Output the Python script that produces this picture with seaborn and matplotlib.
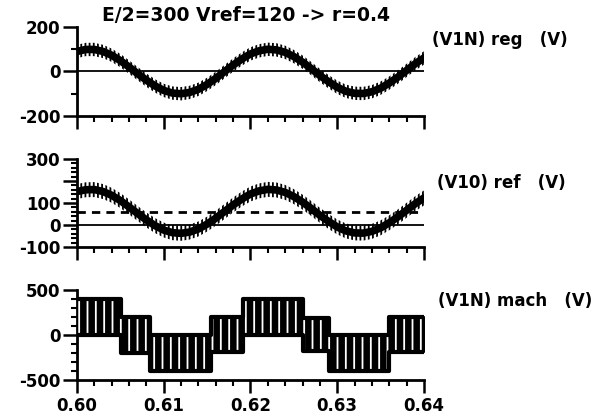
import numpy as np
import matplotlib
matplotlib.use("Agg")
import matplotlib.pyplot as plt
import seaborn as sns

# ── Data ──────────────────────────────────────────────────────────
t_start, t_stop = 0.600, 0.640
t = np.linspace(t_start, t_stop, 41)          # sample times, 1 ms apart

# (V1N) reg : centre of the rippled band (V)
reg_center = [90, 99, 99, 90, 73, 49, 20, -10, -39, -65, -85, -97, -100, -94,
              -80, -58, -31, -1, 29, 56, 79, 93, 100, 97, 86, 67, 42, 13, -18,
              -46, -71, -89, -98, -99, -91, -75, -52, -25, 5, 35, 61]
reg_ripple = 30

# (V10) ref : centre of the rippled band (V) + dashed offset level
ref_center = [152, 160, 161, 152, 135, 111, 82, 52, 23, -3, -23, -35, -38, -32,
              -18, 4, 31, 61, 91, 118, 141, 155, 162, 159, 148, 129, 104, 75, 44,
              16, -9, -27, -36, -37, -29, -13, 10, 37, 67, 97, 123]
ref_ripple = 34
ref_offset = 60

# (V1N) mach : PWM staircase, switching between low and high in each sector
mach_edges = [0.600, 0.6051, 0.6084, 0.6154, 0.6191, 0.6261, 0.6291, 0.6360, 0.640]
mach_high = [400, 200, 0, 200, 400, 190, 0, 200]
mach_low = [0, -200, -400, -190, 0, -180, -400, -190]

x_ticks = [0.60, 0.61, 0.62, 0.63, 0.64]
x_labels = ["0.60", "0.61", "0.62", "0.63", "0.64"]

title = "E/2=300 Vref=120 -> r=0.4"
panel_labels = ["(V1N) reg   (V)", "(V10) ref   (V)", "(V1N) mach   (V)"]
label_pos = [(432, 40), (437, 183), (438, 301)]   # pixel anchors

# ── Style ─────────────────────────────────────────────────────────
sns.set_style("ticks")
plt.rcParams["font.family"] = ["DejaVu Sans"]
plt.rcParams["font.weight"] = "bold"
plt.rcParams["text.color"] = "black"
plt.rcParams["hatch.linewidth"] = 1.3
FS = 12

fig = plt.figure(figsize=(5.94, 4.16), dpi=100)
fig.patch.set_facecolor("white")

ax_reg = fig.add_axes([0.1296, 0.7212, 0.5842, 0.2139])
ax_ref = fig.add_axes([0.1296, 0.4063, 0.5842, 0.2115])
ax_mach = fig.add_axes([0.1296, 0.0865, 0.5842, 0.2163])


def hatch_band(ax, x, lo, hi, color, density, zorder=3, step=None):
    # density = number of '|' in the hatch string (each ~6 lines per 100 px)
    return ax.fill_between(x, lo, hi, facecolor="none", edgecolor=color,
                           linewidth=0, hatch="|" * density, zorder=zorder,
                           step=step)


def style_axes(ax, ylim, majors, minors, ylabels, show_x):
    ax.set_xlim(t_start, t_stop)
    ax.set_ylim(*ylim)
    ax.set_yticks(majors)
    ax.set_yticklabels(ylabels)
    ax.set_yticks(minors, minor=True)
    ax.set_xticks(x_ticks)
    ax.set_xticks(np.arange(0.600, 0.6401, 0.002), minor=True)
    ax.set_xticklabels(x_labels if show_x else [])
    sns.despine(ax=ax)
    for side in ("left", "bottom"):
        ax.spines[side].set_linewidth(2)
        ax.spines[side].set_color("black")
    ax.tick_params(which="major", direction="out", width=1.8,
                   labelsize=FS, colors="black")
    ax.tick_params(axis="y", which="major", length=10, pad=2)
    ax.tick_params(axis="x", which="major", length=9, pad=3)
    ax.tick_params(which="minor", direction="out", length=4.5, width=1.5,
                   colors="black")
    ax.set_xlabel("")
    ax.set_ylabel("")
    for lab in ax.get_xticklabels() + ax.get_yticklabels():
        lab.set_fontweight("bold")


# ── (V1N) reg ─────────────────────────────────────────────────────
reg = np.array(reg_center)
ax_reg.axhline(0, color="black", lw=1.3, zorder=1)
hatch_band(ax_reg, t, reg - reg_ripple, reg + reg_ripple, "black", 4)
sns.lineplot(x=t, y=reg, ax=ax_reg, color="black", lw=5.5, zorder=4)
style_axes(ax_reg, (-200, 200), [-200, 0, 200], [-100, 100],
           ["-200", "0", "200"], False)

# ── (V10) ref ─────────────────────────────────────────────────────
ref = np.array(ref_center)
ax_ref.axhline(0, color="black", lw=1.3, zorder=1)
sns.lineplot(x=[t_start, t_stop], y=[ref_offset, ref_offset], ax=ax_ref,
             color="black", lw=2, dashes=(3, 2.2), zorder=2)
hatch_band(ax_ref, t, ref - ref_ripple, ref + ref_ripple, "black", 4)
sns.lineplot(x=t, y=ref, ax=ax_ref, color="black", lw=5.5, zorder=4)
style_axes(ax_ref, (-100, 300), [-100, 0, 100, 200, 300],
           np.arange(-100, 301, 20), ["-100", "0", "100", "", "300"], False)

# ── (V1N) mach ────────────────────────────────────────────────────
hi = mach_high + [mach_high[-1]]
lo = mach_low + [mach_low[-1]]
ax_mach.fill_between(mach_edges, lo, hi, step="post", facecolor="black",
                     edgecolor="black", lw=1.5, zorder=2)
hatch_band(ax_mach, mach_edges, lo, hi, "white", 2, zorder=3, step="post")
ax_mach.step(mach_edges, hi, where="post", color="black", lw=3, zorder=4)
ax_mach.step(mach_edges, lo, where="post", color="black", lw=3, zorder=4)
style_axes(ax_mach, (-500, 500), [-500, 0, 500], np.arange(-500, 501, 100),
           ["-500", "0", "500"], True)

# ── Texts ─────────────────────────────────────────────────────────
fig.text(0.414, 0.962, title, ha="center", va="center", fontsize=13.5,
         fontweight="bold", color="black")
for (x_px, y_px), label in zip(label_pos, panel_labels):
    fig.text(x_px / 594, 1 - y_px / 416, label, ha="left", va="center",
             fontsize=12, fontweight="bold", color="black")

fig.savefig("out.png", dpi=100, facecolor="white")
